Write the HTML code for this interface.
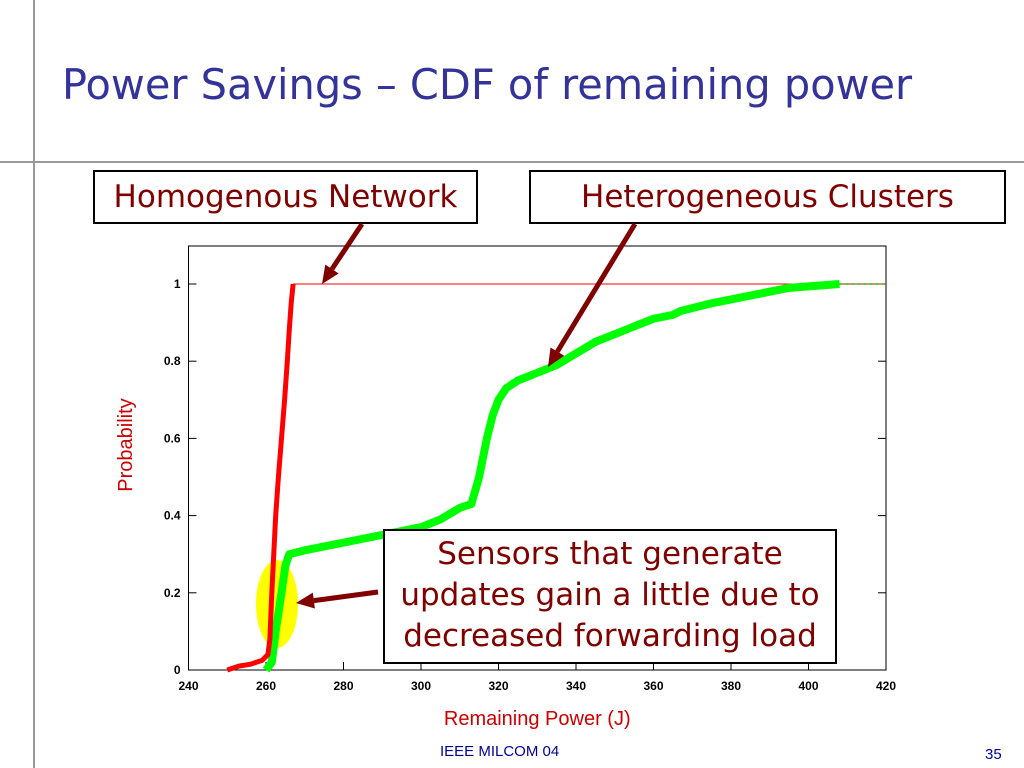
<!DOCTYPE html>
<html><head><meta charset="utf-8"><style>
body{margin:0;width:1024px;height:768px;background:#fff;overflow:hidden;position:relative;font-family:"DejaVu Sans","Liberation Sans",sans-serif}
.box{position:absolute;border:2px solid #000;background:#fff;color:#800000;text-align:center;box-sizing:border-box;white-space:nowrap}
</style></head><body>
<div style="position:absolute;left:33px;top:0;width:2px;height:768px;background:#999"></div>
<div style="position:absolute;left:0;top:161px;width:1024px;height:2px;background:#999"></div>
<div style="position:absolute;left:62px;top:60px;font-size:41.5px;color:#333399;white-space:nowrap">Power Savings – CDF of remaining power</div>
<div class="box" style="left:93px;top:170px;width:385px;height:54px;font-size:31px;line-height:50px">Homogenous Network</div>
<div class="box" style="left:529px;top:170px;width:477px;height:54px;font-size:31px;line-height:50px">Heterogeneous Clusters</div>
<svg id="chart" width="1024" height="768" style="position:absolute;left:0;top:0" font-family="Liberation Sans, sans-serif"></svg>
<div class="box" style="left:383px;top:529px;width:454px;height:135px;font-size:31px;line-height:41px;padding-top:3px">Sensors that generate<br>updates gain a little due to<br>decreased forwarding load</div>
<div style="position:absolute;left:440px;top:743px;font-size:15px;color:#000099;font-family:'Liberation Sans',sans-serif">IEEE MILCOM 04</div>
<div style="position:absolute;left:985px;top:746px;font-size:15px;color:#000099;font-family:'Liberation Sans',sans-serif">35</div>
<script>
const xTicks=[240,260,280,300,320,340,360,380,400,420];
const yTicks=[0,0.2,0.4,0.6,0.8,1];
const yTickLabels=["0","0.2","0.4","0.6","0.8","1"];
const homX=[250,253,256,259,260.5,261,261.5,262,262.5,263.2,264,264.8,265.5,266,266.5,267];
const homY=[0,0.01,0.015,0.025,0.04,0.08,0.2,0.3,0.4,0.5,0.6,0.7,0.8,0.88,0.95,1];
const hetX=[260,261.5,262.5,264,265,266,270,280,290,300,305,310,313,315,317,318.5,320,322,325,330,335,340,345,350,355,360,365,367,375,385,395,408];
const hetY=[0,0.02,0.1,0.2,0.27,0.3,0.31,0.33,0.35,0.37,0.39,0.42,0.43,0.5,0.6,0.66,0.7,0.73,0.75,0.77,0.79,0.82,0.85,0.87,0.89,0.91,0.92,0.93,0.95,0.97,0.99,1.0];
const L=188.5,R=886,T=246,B=670;
const sx=v=>L+(v-240)/180*(R-L);
const sy=v=>670-v*386;
const svg=document.getElementById('chart');
const NS='http://www.w3.org/2000/svg';
function mk(tag,attrs){const e=document.createElementNS(NS,tag);for(const k in attrs)e.setAttribute(k,attrs[k]);svg.appendChild(e);return e;}
let e=mk('ellipse',{cx:277,cy:604,rx:21,ry:44,fill:'#ffff00'});


e=mk('rect',{x:L,y:T,width:R-L,height:B-T,fill:'none',stroke:'#000','stroke-width':1});


xTicks.forEach(v=>{
 let t=mk('line',{x1:sx(v),x2:sx(v),y1:B,y2:B-8,stroke:'#000'});
 
 
 let l=mk('text',{x:sx(v),y:B+20,'text-anchor':'middle','font-size':12,'font-weight':'bold'});
 l.textContent=v;
 
 
});
yTicks.forEach((v,i)=>{
 let t=mk('line',{x1:L,x2:L+8,y1:sy(v),y2:sy(v),stroke:'#000'});
 
 
 let t2=mk('line',{x1:R,x2:R-8,y1:sy(v),y2:sy(v),stroke:'#000'});
 
 
 let l=mk('text',{x:L-8,y:sy(v)+4,'text-anchor':'end','font-size':12,'font-weight':'bold'});
 l.textContent=yTickLabels[i];
 
 
});
let hl=mk('line',{x1:sx(homX[homX.length-1]),x2:R,y1:sy(1),y2:sy(1),stroke:'#ff0000','stroke-width':1});


let gl=mk('line',{x1:sx(hetX[hetX.length-1]),x2:R,y1:sy(1),y2:sy(1),stroke:'#00cc00','stroke-width':1.5,'stroke-dasharray':'3,3'});


let p1=mk('polyline',{points:hetX.map((x,i)=>sx(x)+','+sy(hetY[i])).join(' '),fill:'none',stroke:'#00ff00','stroke-width':8,'stroke-linejoin':'round'});


let p2=mk('polyline',{points:homX.map((x,i)=>sx(x)+','+sy(homY[i])).join(' '),fill:'none',stroke:'#ff0000','stroke-width':5,'stroke-linejoin':'round'});


let xt=mk('text',{x:(L+R)/2,y:725,'text-anchor':'middle','font-size':20,fill:'#cc0000'});
xt.textContent='Remaining Power (J)';


let yt=mk('text',{x:132,y:445,'text-anchor':'middle','font-size':20,fill:'#cc0000',transform:'rotate(-90 132 445)'});
yt.textContent='Probability';


function arrow(x1,y1,x2,y2,name){
 const a=Math.atan2(y2-y1,x2-x1),h=18,w=8;
 const bx=x2-h*Math.cos(a),by=y2-h*Math.sin(a);
 let ln=mk('line',{x1:x1,y1:y1,x2:bx,y2:by,stroke:'#800000','stroke-width':5});
 
 
 let hd=mk('polygon',{points:`${x2},${y2} ${bx+w*Math.sin(a)},${by-w*Math.cos(a)} ${bx-w*Math.sin(a)},${by+w*Math.cos(a)}`,fill:'#800000'});
 
 
}
arrow(362,224,322,284,'homogenous-arrow');
arrow(635,224,548,367,'heterogeneous-arrow');
arrow(378,592,296,603,'callout-arrow');
</script>
</body></html>
